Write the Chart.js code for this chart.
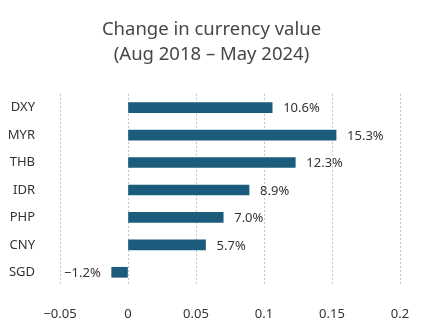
<!DOCTYPE html>
<html>
<head>
<meta charset="utf-8">
<script src="https://cdn.jsdelivr.net/npm/chart.js@4/dist/chart.umd.min.js"></script>
<style>
  html, body { margin: 0; padding: 0; background: #fff; }
  #wrap { width: 423px; height: 336px; }
</style>
</head>
<body>
<div id="wrap"><canvas id="fx"></canvas></div>
<script>
// currencies and their change between Aug 2018 and May 2024
const currencies = ['DXY', 'MYR', 'THB', 'IDR', 'PHP', 'CNY', 'SGD'];
const changes = [0.106, 0.153, 0.123, 0.089, 0.070, 0.057, -0.012];
const titleLines = ['Change in currency value', '(Aug 2018 \u2013 May 2024)'];
const xMin = -0.05;
const xMax = 0.2;
const xStep = 0.05;

const FONT = '"Noto Sans", Lato, sans-serif';
const minus = (s) => s.replace('-', '\u2212');

// writes the percentage next to the end of every bar
const barValueLabels = {
    id: 'barValueLabels',
    afterDatasetsDraw(chart) {
        const ctx = chart.ctx;
        const meta = chart.getDatasetMeta(0);
        ctx.save();
        ctx.font = '13px ' + FONT;
        ctx.fillStyle = '#333';
        ctx.textBaseline = 'middle';
        meta.data.forEach((bar, i) => {
            const v = changes[i];
            const txt = minus((v * 100).toFixed(1) + '%');
            if (v >= 0) {
                ctx.textAlign = 'left';
                ctx.fillText(txt, bar.x + 11, bar.y + 1);
            } else {
                ctx.textAlign = 'right';
                ctx.fillText(txt, bar.x - 11, bar.y + 1);
            }
        });
        ctx.restore();
    }
};

new Chart(document.getElementById('fx').getContext('2d'), {
    type: 'bar',
    data: {
        labels: currencies,
        datasets: [{
            data: changes,
            backgroundColor: '#1b5c7c',
            borderWidth: 0,
            barThickness: 10
        }]
    },
    options: {
        indexAxis: 'y',
        responsive: true,
        maintainAspectRatio: false,
        animation: false,
        layout: { padding: 0 },
        plugins: {
            legend: { display: false },
            tooltip: { enabled: false },
            title: {
                display: true,
                text: titleLines,
                color: '#474747',
                font: { family: FONT, size: 18.5, weight: 'normal', lineHeight: 1.35 },
                padding: { top: 17, bottom: 27 }
            }
        },
        scales: {
            x: {
                min: xMin,
                max: xMax,
                border: { display: false, dash: [2, 2] },
                grid: {
                    color: '#c4c4c4',
                    drawTicks: false
                },
                afterFit: (scale) => {
                    scale.height = 50;
                    // keep the plot 23px clear of the right edge
                    scale.paddingLeft = 0;
                    scale.paddingRight = 23;
                },
                ticks: {
                    stepSize: xStep,
                    padding: 20,
                    color: '#333',
                    font: { family: FONT, size: 13 },
                    callback: (v) => minus(String(Math.round(v * 100) / 100))
                }
            },
            y: {
                border: { display: false },
                grid: { display: false },
                afterFit: (scale) => { scale.width = 60; },
                ticks: {
                    padding: 17,
                    color: '#333',
                    font: { family: FONT, size: 13 }
                }
            }
        }
    },
    plugins: [barValueLabels]
});
</script>
</body>
</html>
